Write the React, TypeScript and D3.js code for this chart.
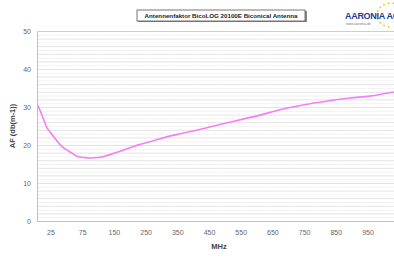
import React from "react";
import * as d3 from "d3";

const title = "Antennenfaktor BicoLOG 20100E Biconical Antenna";
const xTickLabels = ["25", "75", "150", "250", "350", "450", "550", "650", "750", "850", "950"];
// positions along the category axis (1 unit = one labelled step)
const slot = [-0.41, -0.28, -0.13, 0.03, 0.19, 0.35, 0.6, 0.82, 1.07, 1.23, 1.55, 1.77, 1.96, 2.18, 2.49, 2.81, 3.03, 3.44, 3.91, 4.48, 5.17, 5.87, 6.59, 7.22, 8.17, 8.8, 9.43, 10.06, 10.79, 11.0];
const af = [30.5, 27.9, 24.7, 22.9, 21.2, 19.7, 18.3, 17.2, 16.8, 16.7, 16.9, 17.4, 17.9, 18.5, 19.4, 20.3, 20.8, 21.8, 22.8, 23.8, 25.2, 26.6, 28.0, 29.4, 31.0, 31.8, 32.5, 33.0, 34.0, 34.2];
const yTicks = [0, 10, 20, 30, 40, 50];

export default function App() {
  const W = 394, H = 260;
  const left = 37.5, top = 31.5, bottom = 221.5, right = 400;
  const x = d3.scaleLinear().domain([0, 1]).range([51, 82.7]);
  const y = d3.scaleLinear().domain([0, 50]).range([bottom, top]);
  const line = d3.line<number>().x((_, i) => x(slot[i])).y((d) => y(d)).curve(d3.curveMonotoneX);
  const grid = d3.range(1, 50);
  const stars = d3.range(0, 10).map((i) => {
    const a = (100 + i * 20) * Math.PI / 180;
    return [391 + 14 * Math.cos(a), 15 + 12 * Math.sin(a)];
  });
  return (
    <div style={{ position: "fixed", left: 0, top: 0 }}>
      <svg width={W} height={H} style={{ display: "block", fontFamily: "Liberation Sans, Arial, sans-serif" }}>
        <rect width={W} height={H} fill="#fff" />
        <defs>
          <clipPath id="pc"><rect x={left} y={top - 1} width={right - left} height={bottom - top + 2} /></clipPath>
        </defs>
        {grid.map((g) => (
          <line key={g} x1={left} x2={right} y1={y(g)} y2={y(g)} stroke={g % 2 ? "#ececec" : "#e4e4e4"} strokeWidth={1} strokeDasharray={g % 2 ? "2,1" : undefined} />
        ))}
        <line x1={left} x2={right} y1={top} y2={top} stroke="#c8c8ff" />
        <line x1={left} x2={right} y1={bottom} y2={bottom} stroke="#b8b8ff" />
        <line x1={left} x2={left} y1={top} y2={bottom} stroke="#b8b8ff" />
        <path d={line(af) || ""} fill="none" stroke="#f47ef4" strokeWidth={1.6} clipPath="url(#pc)" />
        {yTicks.map((t) => (
          <text key={t} x={31} y={y(t) + 2.5} fontSize={7} fill="#666" textAnchor="end">{t}</text>
        ))}
        {xTickLabels.map((t, i) => (
          <text key={t} x={x(i)} y={235} fontSize={7} fill="#666" textAnchor="middle">{t}</text>
        ))}
        <text x={219} y={249} fontSize={7.5} fontWeight="bold" fill="#444" textAnchor="middle">MHz</text>
        <text transform="translate(15,126) rotate(-90)" fontSize={7.5} fontWeight="bold" fill="#444" textAnchor="middle">AF (db(m-1))</text>
        <rect x={138} y={11} width={169} height={11} fill="#888" />
        <rect x={137} y={10} width={168} height={11} fill="#fff" stroke="#555" strokeWidth={0.8} />
        <text x={221} y={18.3} fontSize={6.2} fontWeight="bold" fill="#222" textAnchor="middle">{title}</text>
        {stars.map((s, i) => (
          <circle key={i} cx={s[0]} cy={s[1]} r={0.9} fill="#e8c800" />
        ))}
        <text x={345} y={19} fontSize={9} fontWeight="bold" fill="#1a3c9a" letterSpacing={-0.3}>AARONIA AG</text>
        <text x={346} y={24.5} fontSize={3.5} fill="#777">www.aaronia.de</text>
      </svg>
    </div>
  );
}
